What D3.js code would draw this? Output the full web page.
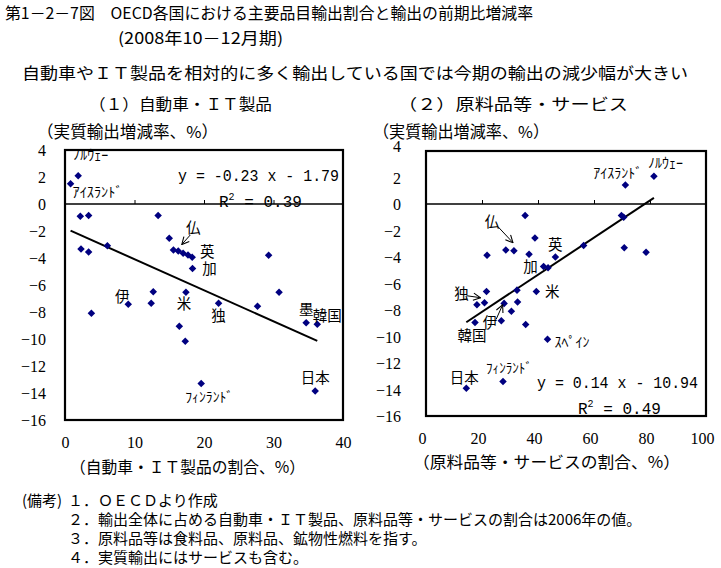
<!DOCTYPE html>
<html><head><meta charset="utf-8">
<script src="https://cdn.jsdelivr.net/npm/d3@7"></script>
<style>body{margin:0;background:#fff}svg{display:block}</style>
</head><body>
<svg id="chart" width="721" height="568"></svg>
<script>
// ---------------- data ----------------
const yTicks = [4, 2, 0, -2, -4, -6, -8, -10, -12, -14, -16];
const xTicksA = [0, 10, 20, 30, 40];
const xTicksB = [0, 20, 40, 60, 80, 100];

// Panel 1: share of autos & IT products (%) vs real export growth (%)
const shareA  = [1.9, 0.8, 2.2, 3.4, 13.4, 15.0, 6.1, 2.3, 15.6, 16.3, 3.4, 17.0, 17.7, 29.3, 18.3, 18.35,
                 12.7, 17.4, 30.8, 12.4, 22.1, 9.1, 27.7, 3.8, 34.7, 36.3, 16.45, 17.3, 19.6, 36.0];
const growthA = [2.1, 1.5, -0.9, -0.86, -0.86, -2.54, -3.1, -3.33, -3.41, -3.48, -3.56, -3.65, -3.78, -3.8, -3.95, -4.77,
                 -6.5, -6.54, -6.54, -7.36, -7.36, -7.43, -7.58, -8.1, -8.8, -8.9, -9.06, -10.17, -13.3, -13.85];
const labelsA = ["ﾉﾙｳｪｰ", "ｱｲｽﾗﾝﾄﾞ", "", "", "", "", "", "", "", "仏", "", "", "", "", "英", "加",
                 "", "米", "", "", "独", "伊", "", "", "墨", "韓国", "", "", "ﾌｨﾝﾗﾝﾄﾞ", "日本"];

// Panel 2: share of raw materials & services (%) vs real export growth (%)
const shareB  = [81.4, 71.2, 35.4, 69.8, 70.6, 38.9, 56.3, 70.8, 28.5, 31.4, 78.6, 36.8, 21.8, 46.2, 42.0, 43.6,
                 32.5, 21.6, 39.4, 20.9, 32.7, 27.9, 18.2, 30.5, 26.9, 17.5, 35.6, 43.4, 27.5, 14.4];
const growthB = [2.09, 1.43, -0.86, -0.86, -1.0, -2.56, -3.14, -3.3, -3.47, -3.52, -3.65, -3.79, -3.87, -4.0, -4.72, -4.82,
                 -6.5, -6.6, -6.6, -7.45, -7.4, -7.5, -7.6, -8.1, -8.82, -8.95, -9.1, -10.2, -13.4, -13.9];
const labelsB = ["ﾉﾙｳｪｰ", "ｱｲｽﾗﾝﾄﾞ", "", "", "", "", "", "", "", "仏", "", "", "", "英", "加", "",
                 "", "", "米", "独", "", "伊", "", "", "", "韓国", "", "ｽﾍﾟｲﾝ", "ﾌｨﾝﾗﾝﾄﾞ", "日本"];

const fitSlopeA = -0.23, fitInterceptA = -1.79, fitR2A = 0.39;
const fitSlopeB = 0.14,  fitInterceptB = -10.94, fitR2B = 0.49;

// ---------------- layout / style ----------------
const JP = "'Noto Sans CJK JP', 'Noto Sans', sans-serif";
const NUM = "'Liberation Serif', 'DejaVu Serif', serif";
const MONO = "'Liberation Mono', 'DejaVu Sans Mono', monospace";
const NAVY = "#000080";

const svg = d3.select("#chart");

function txt(s, x, y, size, opts = {}) {
  const t = svg.append("text").attr("x", x).attr("y", y)
    .attr("font-family", opts.family || JP).attr("font-size", size)
    .attr("fill", "#000").attr("text-anchor", opts.anchor || "start")
    .text(s);
  if (opts.len) t.attr("textLength", opts.len).attr("lengthAdjust", "spacingAndGlyphs");
  return t;
}

// header
txt("第1－2－7図　OECD各国における主要品目輸出割合と輸出の前期比増減率", 5, 19, 16, {len: 528});
txt("(2008年10－12月期)", 118, 44, 16, {len: 165});
txt("自動車やＩＴ製品を相対的に多く輸出している国では今期の輸出の減少幅が大きい", 22, 79, 16, {len: 666});

// arrow marker
svg.append("defs").append("marker")
  .attr("id", "arr").attr("viewBox", "0 0 10 10").attr("refX", 9).attr("refY", 5)
  .attr("markerWidth", 9).attr("markerHeight", 9).attr("orient", "auto")
  .attr("markerUnits", "userSpaceOnUse")
  .append("path").attr("d", "M1,1 L9,5 L1,9").attr("fill", "none").attr("stroke", "#000").attr("stroke-width", 1.2);

function panel(cfg) {
  const g = svg.append("g");
  const x = d3.scaleLinear().domain(cfg.xDomain).range([cfg.left, cfg.right]);
  const y = d3.scaleLinear().domain([-16, 4]).range([cfg.bottom, cfg.top]);

  // titles
  txt(cfg.title, cfg.titleX, 110, 15.5, {len: cfg.titleLen});
  txt("（実質輸出増減率、%）", cfg.yTitleX, 138, 16.5, {len: cfg.yTitleLen});
  txt(cfg.xTitle, cfg.xTitleX, cfg.xTitleY, 16, {len: cfg.xTitleLen});

  // y tick labels
  const ya = g.append("g").attr("transform", `translate(${cfg.left},0)`)
    .call(d3.axisLeft(y).tickValues(yTicks).tickSize(0).tickPadding(cfg.yPad).tickFormat(d3.format("d")));
  ya.select(".domain").remove();
  ya.selectAll("text").attr("font-family", NUM).attr("font-size", 16).attr("fill", "#000")
    .attr("dy", d => (d === 4 ? cfg.topLabelDy : 0.35 + "em"));

  // x tick labels at bottom
  const xa = g.append("g").attr("transform", `translate(${cfg.xLabDx},${cfg.bottom})`)
    .call(d3.axisBottom(x).tickValues(cfg.xTicks).tickSize(0).tickPadding(17).tickFormat(d3.format("d")));
  xa.select(".domain").remove();
  xa.selectAll("text").attr("font-family", NUM).attr("font-size", 16).attr("fill", "#000");

  // zero line with ticks
  g.append("line").attr("x1", cfg.left).attr("x2", cfg.right).attr("y1", y(0)).attr("y2", y(0))
    .attr("stroke", "#000").attr("stroke-width", 1.5);
  const za = g.append("g").attr("transform", `translate(0,${y(0)})`)
    .call(d3.axisTop(x).tickValues(cfg.xTicks.slice(1, -1)).tickSize(4).tickFormat(""));
  za.select(".domain").remove();
  za.selectAll("line").attr("stroke", "#000").attr("stroke-width", 1);

  // frame
  g.append("rect").attr("x", cfg.left).attr("y", cfg.top)
    .attr("width", cfg.right - cfg.left).attr("height", cfg.bottom - cfg.top)
    .attr("fill", "none").attr("stroke", "#000").attr("stroke-width", 2.2);

  // regression line
  const xs = d3.extent(cfg.share);
  g.append("line")
    .attr("x1", x(xs[0])).attr("y1", y(cfg.slope * xs[0] + cfg.intercept))
    .attr("x2", x(xs[1])).attr("y2", y(cfg.slope * xs[1] + cfg.intercept))
    .attr("stroke", "#000").attr("stroke-width", 2);

  // points
  const pts = cfg.share.map((s, i) => ({x: s, y: cfg.growth[i], label: cfg.labels[i]}));
  g.selectAll("path.pt").data(pts).join("path").attr("class", "pt")
    .attr("d", d3.symbol().type(d3.symbolDiamond2).size(36))
    .attr("transform", d => `translate(${x(d.x)},${y(d.y)})`)
    .attr("fill", NAVY);

  // equation
  const sign = cfg.intercept < 0 ? "-" : "+";
  txt(`y = ${cfg.slope.toFixed(2)} x ${sign} ${Math.abs(cfg.intercept).toFixed(2)}`, cfg.eqX, cfg.eqY, 16,
      {family: MONO, len: 161});
  const r = svg.append("text").attr("x", cfg.r2X).attr("y", cfg.eqY + 26)
    .attr("font-family", MONO).attr("font-size", 16).attr("fill", "#000");
  r.append("tspan").text("R");
  r.append("tspan").attr("font-size", 10).attr("dy", -7).text("2");
  r.append("tspan").attr("dy", 7).text(" = " + cfg.r2.toFixed(2));

  // country labels & arrows
  cfg.notes.forEach(n => {
    const d = pts.find(p => p.label === n.label);
    const px = x(d.x), py = y(d.y);
    const hw = /[ｦ-ﾟ]/.test(n.label);
    txt(n.label, px + n.dx, py + n.dy + 5, hw ? 13.5 : 14.5, {anchor: n.anchor || "middle", len: n.len});
    if (n.arrow) {
      svg.append("line")
        .attr("x1", px + n.arrow[0]).attr("y1", py + n.arrow[1])
        .attr("x2", px + n.arrow[2]).attr("y2", py + n.arrow[3])
        .attr("stroke", "#000").attr("stroke-width", 1).attr("marker-end", "url(#arr)");
    }
  });
}

panel({
  left: 65, right: 343, top: 150, bottom: 420, xDomain: [0, 40], xTicks: xTicksA,
  share: shareA, growth: growthA, labels: labelsA,
  slope: fitSlopeA, intercept: fitInterceptA, r2: fitR2A,
  title: "（１）自動車・ＩＴ製品", titleX: 89, titleLen: 183,
  yTitleX: 37, yTitleLen: 181, yPad: 19, topLabelDy: "0.35em",
  xTitle: "（自動車・ＩＴ製品の割合、%）", xTitleX: 70, xTitleY: 473, xTitleLen: 235, xLabDx: 0,
  eqX: 178, eqY: 181, r2X: 219,
  notes: [
    {label: "ﾉﾙｳｪｰ", dx: -5, dy: -21, anchor: "start", len: 35},
    {label: "ｱｲｽﾗﾝﾄﾞ", dx: 2, dy: 8, anchor: "start", len: 50},
    {label: "仏", dx: 15, dy: -23, arrow: [12, -16, 3.5, -6.5]},
    {label: "英", dx: 15, dy: -5},
    {label: "加", dx: 17, dy: 1},
    {label: "伊", dx: -6, dy: -7},
    {label: "米", dx: -2, dy: 12},
    {label: "独", dx: 0, dy: 13},
    {label: "墨", dx: 0, dy: -13},
    {label: "韓国", dx: 10, dy: -8},
    {label: "日本", dx: 0, dy: -13},
    {label: "ﾌｨﾝﾗﾝﾄﾞ", dx: 8, dy: 13, len: 48}
  ]
});

panel({
  left: 426, right: 706, top: 151, bottom: 416, xDomain: [0, 100], xTicks: xTicksB,
  share: shareB, growth: growthB, labels: labelsB,
  slope: fitSlopeB, intercept: fitInterceptB, r2: fitR2B,
  title: "（２）原料品等・サービス", titleX: 398, titleLen: 230,
  yTitleX: 373, yTitleLen: 176, yPad: 25, topLabelDy: "0",
  xTitle: "（原料品等・サービスの割合、%）", xTitleX: 413, xTitleY: 468, xTitleLen: 267, xLabDx: -4,
  eqX: 537, eqY: 388, r2X: 578,
  notes: [
    {label: "ﾉﾙｳｪｰ", dx: -6, dy: -13, anchor: "start", len: 35},
    {label: "ｱｲｽﾗﾝﾄﾞ", dx: 17, dy: -12, anchor: "end", len: 49},
    {label: "仏", dx: -22, dy: -29, arrow: [-16, -24, -1, -8]},
    {label: "英", dx: 0, dy: -12},
    {label: "加", dx: -13, dy: 0},
    {label: "独", dx: -23, dy: -9, arrow: [-18, -7, -4, -5]},
    {label: "伊", dx: -14, dy: 20, arrow: [-8, 16, -1.5, 1.5]},
    {label: "米", dx: 16, dy: 1},
    {label: "韓国", dx: -3, dy: 13},
    {label: "ｽﾍﾟｲﾝ", dx: 7, dy: 3, anchor: "start", len: 35},
    {label: "ﾌｨﾝﾗﾝﾄﾞ", dx: 6, dy: -14, len: 46},
    {label: "日本", dx: -2, dy: -10}
  ]
});

// notes
txt("(備考)", 22, 506, 15, {len: 40});
const notes = [
  "１．ＯＥＣＤより作成",
  "２．輸出全体に占める自動車・ＩＴ製品、原料品等・サービスの割合は2006年の値。",
  "３．原料品等は食料品、原料品、鉱物性燃料を指す。",
  "４．実質輸出にはサービスも含む。"
];
notes.forEach((s, i) => txt(s, 68, 506 + i * 19, 15));
</script>
</body></html>
